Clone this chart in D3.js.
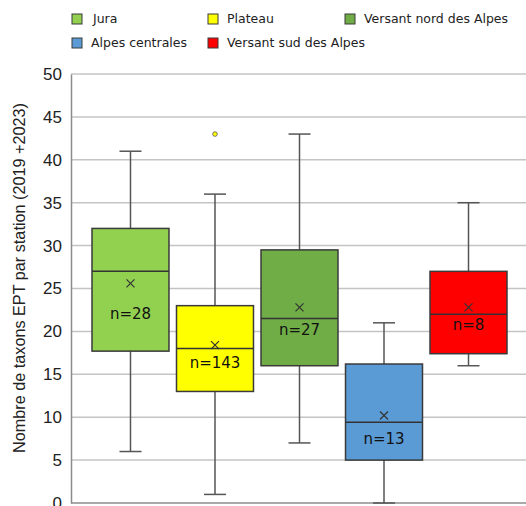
<!DOCTYPE html>
<html><head><meta charset="utf-8">
<script src="https://cdn.jsdelivr.net/npm/d3@7"></script>
<style>body{margin:0;background:#fff}svg{display:block}</style>
</head><body><svg id="c" width="526" height="506"></svg>
<script>
const categories = ["Jura","Plateau","Versant nord des Alpes","Alpes centrales","Versant sud des Alpes"];
const colors = ["#92d050","#ffff00","#70ad47","#5b9bd5","#ff0000"];
const whiskerLow = [6, 1, 7, 0, 16];
const q1 = [17.7, 13, 16, 5, 17.4];
const median = [27, 18, 21.5, 9.4, 22];
const q3 = [32, 23, 29.5, 16.2, 27];
const whiskerHigh = [41, 36, 43, 21, 35];
const mean = [25.6, 18.4, 22.8, 10.2, 22.8];
const counts = [28, 143, 27, 13, 8];
const labelY = [22, 16.3, 20.2, 7.5, 20.8];
const outliers = [{cat: 1, v: 43}];
const yTicks = [0,5,10,15,20,25,30,35,40,45,50];

(function(){
const svg = d3.select("#c");
const pl = 71, pt = 74, pb = 503, pr = 528;
const x = d3.scaleBand().domain(categories).range([pl, pr]).paddingInner(0.089).paddingOuter(0.2485);
const y = d3.scaleLinear().domain([0, 50]).range([pb, pt]);

svg.append("g").selectAll("line").data(yTicks.filter(d => d > 0)).join("line")
  .attr("x1", pl).attr("x2", 526).attr("y1", d => y(d)).attr("y2", d => y(d))
  .attr("stroke", "#c4c4c4").attr("stroke-width", 1.5);

const ax = svg.append("g").attr("transform", `translate(${pl},0)`)
  .call(d3.axisLeft(y).tickValues(yTicks).tickSize(0).tickPadding(9));
ax.select(".domain").attr("stroke", "#8c8c8c").attr("stroke-width", 1.5);
ax.selectAll("text").attr("font-family", "Liberation Sans, Arial, sans-serif").attr("font-size", 17).attr("fill", "#222");
svg.append("line").attr("x1", pl).attr("x2", 526).attr("y1", pb).attr("y2", pb)
  .attr("stroke", "#8c8c8c").attr("stroke-width", 1.5);

const title = svg.append("text").attr("transform", `translate(25,278) rotate(-90)`)
  .attr("text-anchor", "middle").attr("font-family", "Liberation Sans, Arial, sans-serif")
  .attr("font-size", 15).attr("fill", "#222")
  .text("Nombre de taxons EPT par station (2019 +2023)");
const tl = title.node().getComputedTextLength();
if (tl > 0) title.attr("font-size", 15 * 350 / tl);

const bw = x.bandwidth();
const g = svg.append("g").selectAll("g").data(categories).join("g");
g.each(function(c, i) {
  const s = d3.select(this);
  const cx = x(c) + bw / 2;
  const wc = "#555";
  s.append("line").attr("x1", cx).attr("x2", cx).attr("y1", y(whiskerHigh[i])).attr("y2", y(q3[i])).attr("stroke", wc).attr("stroke-width", 1.5);
  s.append("line").attr("x1", cx).attr("x2", cx).attr("y1", y(q1[i])).attr("y2", y(whiskerLow[i])).attr("stroke", wc).attr("stroke-width", 1.5);
  [whiskerHigh[i], whiskerLow[i]].forEach(v => {
    s.append("line").attr("x1", cx - 11).attr("x2", cx + 11).attr("y1", y(v)).attr("y2", y(v)).attr("stroke", wc).attr("stroke-width", 1.5);
  });
  s.append("rect").attr("x", x(c)).attr("width", bw).attr("y", y(q3[i])).attr("height", y(q1[i]) - y(q3[i]))
    .attr("fill", colors[i]).attr("stroke", "#3a3a3a").attr("stroke-width", 1.5);
  s.append("line").attr("x1", x(c)).attr("x2", x(c) + bw).attr("y1", y(median[i])).attr("y2", y(median[i])).attr("stroke", "#333").attr("stroke-width", 1.5);
  const my = y(mean[i]), m = 4;
  s.append("path").attr("d", `M${cx-m},${my-m}L${cx+m},${my+m}M${cx-m},${my+m}L${cx+m},${my-m}`).attr("stroke", "#333").attr("stroke-width", 1.2);
  s.append("text").attr("x", cx).attr("y", y(labelY[i])).attr("dy", "0.35em").attr("text-anchor", "middle")
    .attr("font-family", "DejaVu Sans, Verdana, sans-serif").attr("font-size", 15).attr("fill", "#111")
    .text("n=" + counts[i]);
});

svg.append("g").selectAll("circle").data(outliers).join("circle")
  .attr("cx", d => x(categories[d.cat]) + bw / 2).attr("cy", d => y(d.v)).attr("r", 2.3)
  .attr("fill", d => colors[d.cat]).attr("stroke", "#555").attr("stroke-width", 0.8);

const legPos = [[72,19],[208,19],[345,19],[72,43],[208,43]];
const lg = svg.append("g").selectAll("g").data(categories).join("g")
  .attr("transform", (d, i) => `translate(${legPos[i][0]},${legPos[i][1]})`);
lg.append("rect").attr("x", 0).attr("y", -5).attr("width", 10).attr("height", 10)
  .attr("fill", (d, i) => colors[i]).attr("stroke", "#3a3a3a").attr("stroke-width", 1);
lg.append("text").attr("x", (d, i) => i === 0 ? 21 : 19).attr("dy", "0.35em")
  .attr("font-family", "DejaVu Sans, Verdana, sans-serif").attr("font-size", 12.5).attr("fill", "#222")
  .text(d => d);
})();
</script></body></html>
